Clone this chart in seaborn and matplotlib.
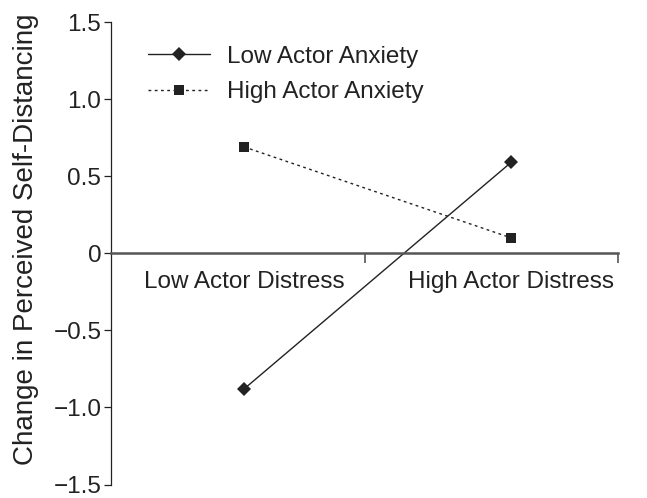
import matplotlib
matplotlib.use('Agg')
import matplotlib.pyplot as plt
import numpy as np
import pandas as pd
import seaborn as sns

# Data
conditions = ['Low Actor Distress', 'High Actor Distress']
x_pos = [0, 1]
low_anxiety = [-0.88, 0.59]
high_anxiety = [0.69, 0.10]
y_ticks = [-1.5, -1.0, -0.5, 0, 0.5, 1.0, 1.5]
y_tick_labels = ['\u22121.5', '\u22121.0', '\u22120.5', '0', '0.5', '1.0', '1.5']

df = pd.DataFrame({
    'x': x_pos * 2,
    'y': low_anxiety + high_anxiety,
    'group': ['Low Actor Anxiety'] * 2 + ['High Actor Anxiety'] * 2,
})

sns.set_style('white')
plt.rcParams['font.family'] = ['Liberation Sans', 'DejaVu Sans']

fig = plt.figure(figsize=(6.47, 4.98), dpi=100)
ax = fig.add_axes([0.1716, 0.027, 0.7836, 0.9288])

ink = '#222222'
sub = df[df.group == 'Low Actor Anxiety']
sns.lineplot(data=sub, x='x', y='y', ax=ax, color=ink, linewidth=1.0,
             marker='D', markersize=7, markeredgewidth=0,
             label='Low Actor Anxiety')
sub = df[df.group == 'High Actor Anxiety']
sns.lineplot(data=sub, x='x', y='y', ax=ax, color=ink, linewidth=1.0,
             marker='s', markersize=7.5, markeredgewidth=0,
             label='High Actor Anxiety', dashes=False)
ax.lines[1].set_dashes([2, 2.5])

ax.set_xlim(-0.498, 1.40)
ax.set_ylim(-1.5, 1.5)

# spines
for s in ['top', 'right']:
    ax.spines[s].set_visible(False)
ax.spines['bottom'].set_position(('data', 0))
ax.spines['bottom'].set_color('#555555')
ax.spines['bottom'].set_linewidth(1.8)
ax.spines['left'].set_color(ink)
ax.spines['left'].set_linewidth(0.9)

ax.set_yticks(y_ticks)
ax.set_yticklabels(y_tick_labels, fontsize=17.5, color=ink)
ax.tick_params(axis='y', direction='out', length=5, width=0.9, color=ink,
               pad=2, left=True)

ax.set_xticks(x_pos)
ax.set_xticklabels(conditions, fontsize=17.5, color=ink)
ax.set_xticks([0.453, 1.40], minor=True)
ax.tick_params(axis='x', which='major', length=0, pad=13)
ax.tick_params(axis='x', which='minor', direction='out', length=7,
               width=1.2, color='#555555', bottom=True)

ax.set_xlabel('')
ax.set_ylabel('Change in Perceived Self-Distancing', fontsize=20, color=ink)
ax.yaxis.set_label_coords(-0.142, 0.53)

leg = ax.legend(loc='upper left', bbox_to_anchor=(0.04, 0.985), frameon=False,
                fontsize=17.5, handlelength=2.55, handletextpad=0.7,
                labelspacing=0.55, borderaxespad=0.3)
for t in leg.get_texts():
    t.set_color(ink)

fig.savefig('out.png', dpi=100)
